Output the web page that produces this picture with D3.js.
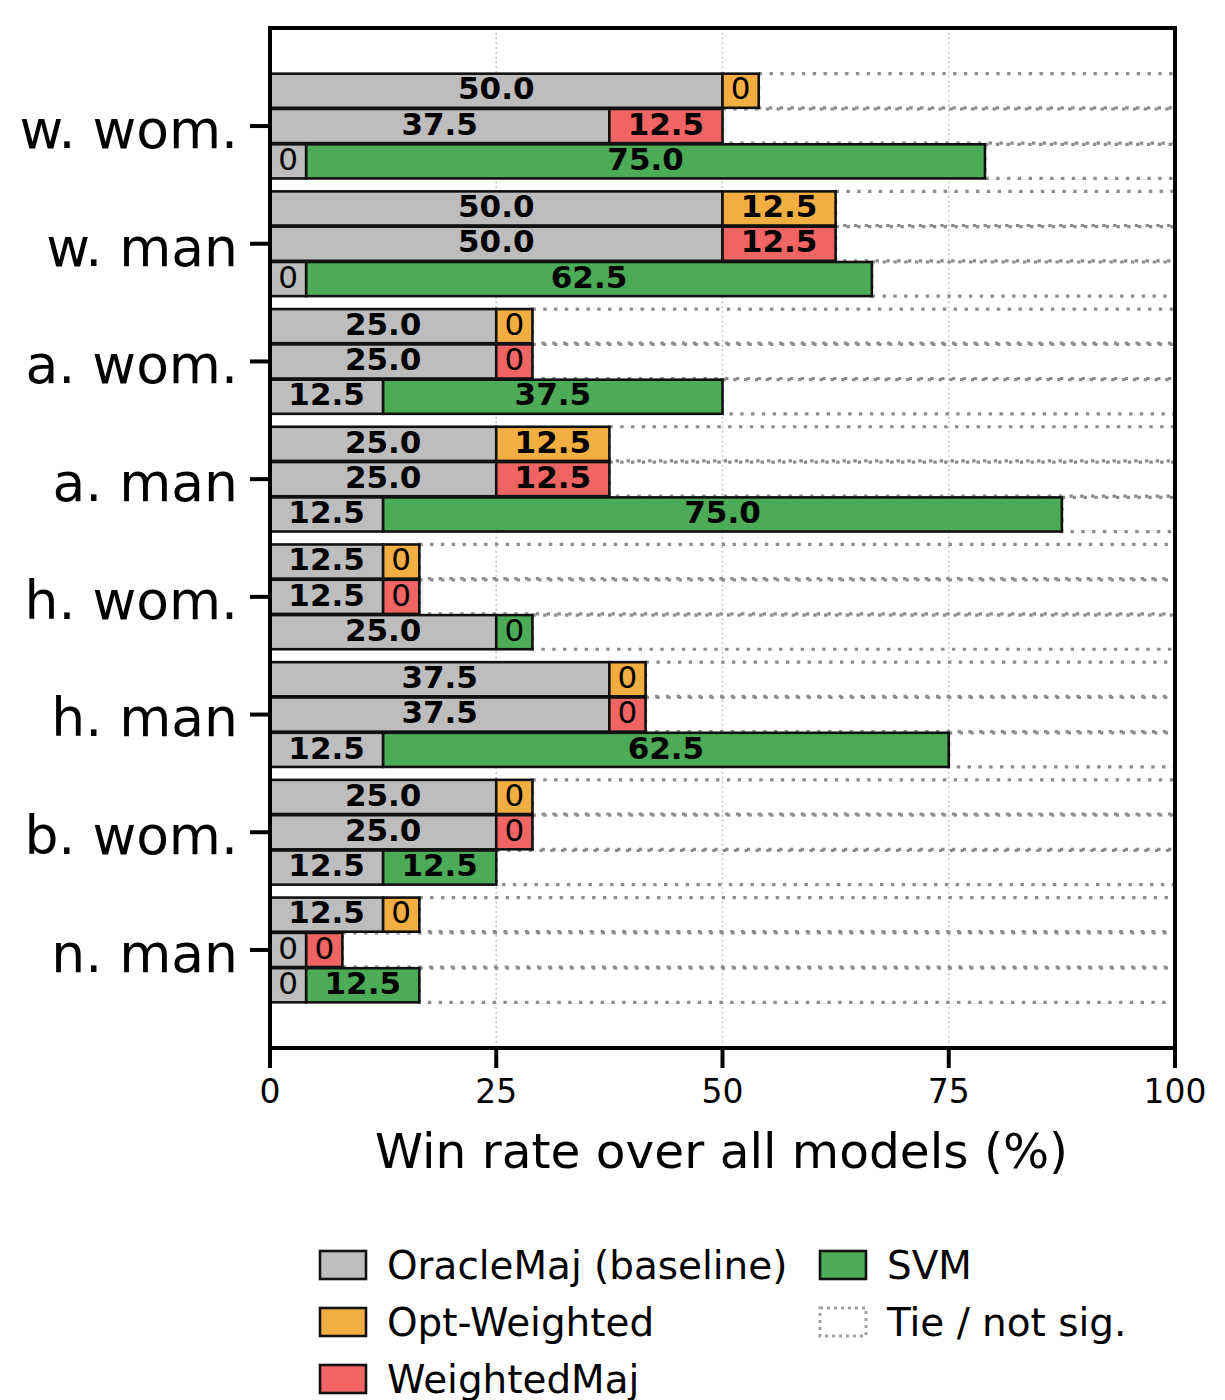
<!DOCTYPE html>
<html><head><meta charset="utf-8">
<script src="https://cdn.jsdelivr.net/npm/d3@7"></script>
<style>body{margin:0;background:#fff}svg{display:block}text{font-family:"DejaVu Sans",sans-serif}</style>
</head><body>
<script>
const categories = ["w. wom.", "w. man", "a. wom.", "a. man", "h. wom.", "h. man", "b. wom.", "n. man"];
const baselineVsOpt = [50, 50, 25, 25, 12.5, 37.5, 25, 12.5];
const optWeighted   = [0, 12.5, 0, 12.5, 0, 0, 0, 0];
const baselineVsWM  = [37.5, 50, 25, 25, 12.5, 37.5, 25, 0];
const weightedMaj   = [12.5, 12.5, 0, 12.5, 0, 0, 0, 0];
const baselineVsSVM = [0, 0, 12.5, 12.5, 25, 12.5, 12.5, 0];
const svm           = [75, 62.5, 37.5, 75, 0, 62.5, 12.5, 12.5];
const xTicks = [0, 25, 50, 75, 100];
const seriesNames = ["OracleMaj (baseline)", "Opt-Weighted", "WeightedMaj", "SVM", "Tie / not sig."];
const colors = {base: "#bdbdbd", opt: "#f2ae40", wm: "#f06464", svm: "#4cab57"};

const W = 1225, H = 1400;
const L = 270, R = 1175, T = 28, B = 1048;
const svg = d3.select("body").append("svg").attr("width", W).attr("height", H);

const x = d3.scaleLinear().domain([0, 100]).range([L, R]);
const y = d3.scalePoint().domain(categories).range([T, B]).padding(0.833);
const step = y.step();
const barH = 0.29 * step;
const minW = 4;

// grid
svg.append("g").selectAll("line").data([25, 50, 75]).join("line")
  .attr("x1", d => x(d)).attr("x2", d => x(d)).attr("y1", T).attr("y2", B)
  .attr("stroke", "#bbbbbb").attr("stroke-width", 1.6).attr("stroke-dasharray", "1.6,3.2");

const rows = [];
categories.forEach((c, i) => {
  rows.push({cat: c, off: -0.3, base: baselineVsOpt[i], val: optWeighted[i], color: colors.opt});
  rows.push({cat: c, off: 0, base: baselineVsWM[i], val: weightedMaj[i], color: colors.wm});
  rows.push({cat: c, off: 0.3, base: baselineVsSVM[i], val: svm[i], color: colors.svm});
});

const g = svg.append("g");
// tie remainder
rows.forEach(r => {
  const bw = r.base === 0 ? minW : r.base;
  const vw = r.val === 0 ? minW : r.val;
  const end = bw + vw;
  const cy = y(r.cat) + r.off * step;
  g.append("rect").attr("x", x(end)).attr("y", cy - barH / 2)
    .attr("width", x(100) - x(end)).attr("height", barH)
    .attr("fill", "none").attr("stroke", "#8c8c8c").attr("stroke-width", 3.2)
    .attr("stroke-dasharray", "3.4,7.4");
});
rows.forEach(r => {
  const bw = r.base === 0 ? minW : r.base;
  const vw = r.val === 0 ? minW : r.val;
  const cy = y(r.cat) + r.off * step;
  const segs = [{s: 0, w: bw, v: r.base, c: colors.base}, {s: bw, w: vw, v: r.val, c: r.color}];
  segs.forEach(sg => {
    g.append("rect").attr("x", x(sg.s)).attr("y", cy - barH / 2)
      .attr("width", x(sg.s + sg.w) - x(sg.s)).attr("height", barH)
      .attr("fill", sg.c).attr("stroke", "#111").attr("stroke-width", 2.6);
  });
  segs.forEach(sg => {
    g.append("text").attr("x", x(sg.s + sg.w / 2)).attr("y", cy).attr("dy", "0.28em")
      .attr("text-anchor", "middle").attr("font-size", 31)
      .attr("font-weight", sg.v === 0 ? "normal" : "bold")
      .attr("fill", "#000").text(sg.v === 0 ? "0" : sg.v.toFixed(1));
  });
});

// spines
svg.append("rect").attr("x", L).attr("y", T).attr("width", R - L).attr("height", B - T)
  .attr("fill", "none").attr("stroke", "#000").attr("stroke-width", 4);

// y axis
const ya = svg.append("g");
categories.forEach(c => {
  ya.append("line").attr("x1", L - 20).attr("x2", L).attr("y1", y(c)).attr("y2", y(c))
    .attr("stroke", "#000").attr("stroke-width", 4);
  ya.append("text").attr("x", L - 32).attr("y", y(c)).attr("dy", "0.41em")
    .attr("text-anchor", "end").attr("font-size", 53.5).text(c);
});
// x axis
const xa = svg.append("g");
xTicks.forEach(t => {
  xa.append("line").attr("x1", x(t)).attr("x2", x(t)).attr("y1", B).attr("y2", B + 20)
    .attr("stroke", "#000").attr("stroke-width", 4);
  xa.append("text").attr("x", x(t)).attr("y", 1103).attr("text-anchor", "middle")
    .attr("font-size", 33).text(t);
});
svg.append("text").attr("x", (L + R) / 2 - 1).attr("y", 1168).attr("text-anchor", "middle")
  .attr("font-size", 48.6).text("Win rate over all models (%)");

// legend
const legItems = [
  {name: seriesNames[0], fill: colors.base, col: 0, row: 0},
  {name: seriesNames[1], fill: colors.opt, col: 0, row: 1},
  {name: seriesNames[2], fill: colors.wm, col: 0, row: 2},
  {name: seriesNames[3], fill: colors.svm, col: 1, row: 0},
  {name: seriesNames[4], fill: "none", col: 1, row: 1, tie: true}
];
const lg = svg.append("g");
legItems.forEach(it => {
  const lx = it.col === 0 ? 320 : 820;
  const ly = 1265 + it.row * 57;
  lg.append("rect").attr("x", lx).attr("y", ly - 14).attr("width", 46).attr("height", 28)
    .attr("fill", it.fill)
    .attr("stroke", it.tie ? "#a0a0a0" : "#111").attr("stroke-width", it.tie ? 3 : 2.6)
    .attr("stroke-dasharray", it.tie ? "3,4" : null);
  lg.append("text").attr("x", lx + 67).attr("y", ly).attr("dy", "0.36em")
    .attr("font-size", 38.9).text(it.name);
});
</script>
</body></html>
